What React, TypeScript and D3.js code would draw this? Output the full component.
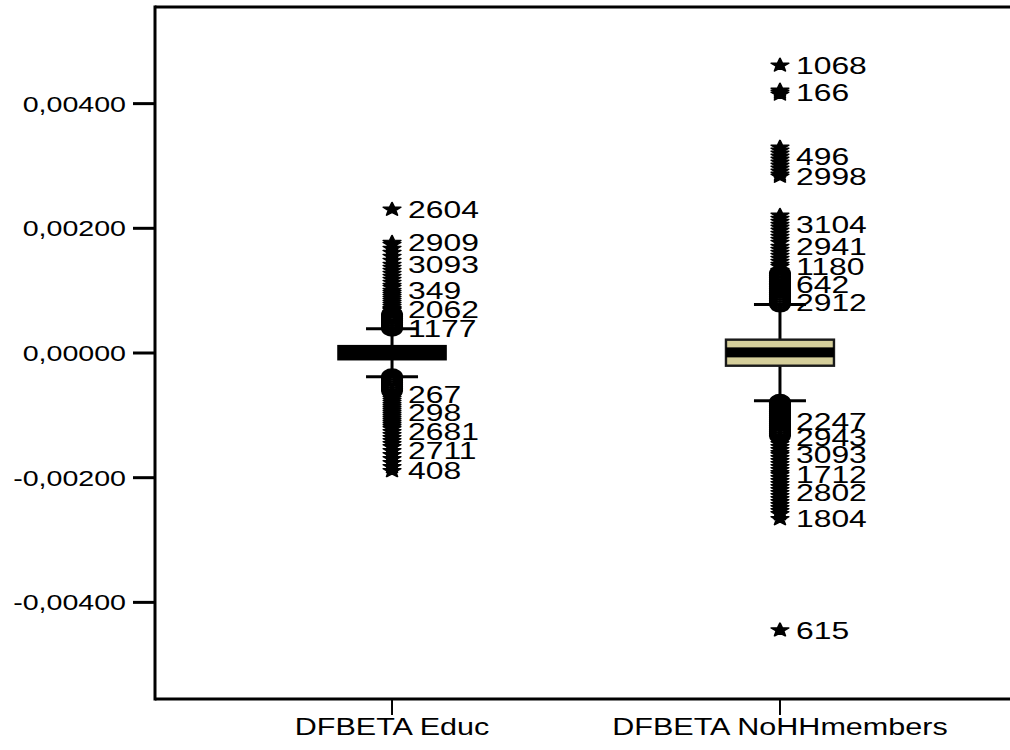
import React from "react";
import * as d3 from "d3";

// Box plot of DFBETA diagnostics for two predictors.
const categories = ["DFBETA Educ", "DFBETA NoHHmembers"];

// Box statistics per category
const whiskerLow = [-0.00038, -0.000766];
const quartile1 = [-0.000107, -0.000204];
const medians = [0.0, 0.00001];
const quartile3 = [0.000117, 0.000214];
const whiskerHigh = [0.00039, 0.000776];

// Unlabelled outliers (circles) and extremes (stars) per category
const educCircles = [
  0.000615, 0.000583, 0.000551, 0.000519, 0.000487, 0.000455, 0.000422,
  -0.000381, -0.000413, -0.000445, -0.000477, -0.000509, -0.000541, -0.000573, -0.000606,
];
const educStars = [
  0.00174, 0.001676, 0.001611, 0.001547, 0.001483, 0.00137, 0.001322, 0.001274, 0.001226,
  0.001177, 0.001129, 0.001081, 0.001049, 0.000969, 0.000937, 0.000904, 0.000872, 0.00084,
  0.000808, 0.000776, 0.000744, 0.000712, 0.00068, 0.000647,
  -0.000638, -0.000702, -0.000734, -0.000766, -0.000798, -0.000831, -0.000863, -0.000895,
  -0.000927, -0.000991, -0.001023, -0.001055, -0.001088, -0.00112, -0.001152, -0.001184,
  -0.001216, -0.001312, -0.001361, -0.001409, -0.001457, -0.001505, -0.001634, -0.001698,
  -0.001762, -0.001826,
];
const nohhCircles = [
  0.001274, 0.001242, 0.00121, 0.001177, 0.001145, 0.001113, 0.001065, 0.001033, 0.001001,
  0.000969, 0.000937, 0.000904, 0.000872, 0.00084, 0.000784,
  -0.00079, -0.000814, -0.000847, -0.000879, -0.000911, -0.000943, -0.000975, -0.001007,
  -0.001039, -0.001071, -0.001136, -0.001168, -0.0012, -0.001232, -0.001264, -0.001296,
  -0.001328,
];
const nohhStars = [
  0.004214, 0.00415, 0.003298, 0.00325, 0.003202, 0.003105, 0.003057, 0.003009, 0.002961,
  0.002912, 0.002864, 0.002206, 0.002157, 0.002109, 0.002013, 0.001965, 0.001916, 0.001868,
  0.00182, 0.001772, 0.001659, 0.001611, 0.001563, 0.001515, 0.001467, 0.001418, 0.001322,
  -0.001409, -0.001457, -0.001505, -0.001553, -0.001602, -0.001682, -0.00173, -0.001778,
  -0.001826, -0.001875, -0.001923, -0.002003, -0.002051, -0.0021, -0.002148, -0.002196,
  -0.002292, -0.002341, -0.002389, -0.002437, -0.002485, -0.002533, -0.002582,
];

// Case-labelled points: [case id, value, marker]
const educLabelled: [string, number, string][] = [
  ["2604", 0.002302, "star"],
  ["2909", 0.001772, "star"],
  ["3093", 0.001418, "star"],
  ["349", 0.001001, "star"],
  ["2062", 0.000696, "star"],
  ["1177", 0.000398, "circle"],
  ["267", -0.00067, "star"],
  ["298", -0.000959, "star"],
  ["2681", -0.001264, "star"],
  ["2711", -0.001569, "star"],
  ["408", -0.001891, "star"],
];
const nohhLabelled: [string, number, string][] = [
  ["1068", 0.004615, "star"],
  ["166", 0.004182, "star"],
  ["496", 0.003153, "star"],
  ["2998", 0.002832, "star"],
  ["3104", 0.002061, "star"],
  ["2941", 0.001708, "star"],
  ["1180", 0.001386, "star"],
  ["642", 0.001097, "circle"],
  ["2912", 0.000808, "circle"],
  ["2247", -0.001104, "circle"],
  ["2943", -0.001361, "star"],
  ["3093", -0.001634, "star"],
  ["1712", -0.001955, "star"],
  ["2802", -0.002244, "star"],
  ["1804", -0.002662, "star"],
  ["615", -0.004445, "star"],
];

const circlesByCat = [educCircles, nohhCircles];
const starsByCat = [educStars, nohhStars];
const labelledByCat = [educLabelled, nohhLabelled];

const W = 1010;
const H = 750;
const plot = { left: 155, top: 7, right: 1017, bottom: 699 };
const SX = 1.3; // horizontal stretch of the whole graphic
const FONT = "'Liberation Sans', Arial, Helvetica, sans-serif";
const BOX_FILL = "#d6cf9b";

// Five-armed asterisk used for extreme values; size = outer radius squared
const symbolAsteriskStar = {
  draw(context: any, size: number) {
    const r = Math.sqrt(size);
    const ir = r * 0.42;
    for (let i = 0; i < 10; i++) {
      const a = -Math.PI / 2 + (i * Math.PI) / 5;
      const rad = i % 2 === 0 ? r : ir;
      const px = Math.cos(a) * rad;
      const py = Math.sin(a) * rad;
      if (i === 0) context.moveTo(px, py);
      else context.lineTo(px, py);
    }
    context.closePath();
  },
};

const starPath = d3.symbol().type(symbolAsteriskStar as any).size(50)()!;
const circlePath = d3.symbol().type(d3.symbolCircle).size(Math.PI * 7.2 * 7.2)()!;

function SText({ x, y, anchor, size, children }: any) {
  return (
    <text
      transform={`translate(${x},${y}) scale(${SX},1)`}
      textAnchor={anchor}
      fontSize={size}
      fontFamily={FONT}
      fill="#000"
    >
      {children}
    </text>
  );
}

export default function App() {
  const y = d3.scaleLinear().domain([-0.00555, 0.00555]).range([plot.bottom, plot.top]);
  const x = d3
    .scalePoint<string>()
    .domain(categories)
    .range([plot.left, plot.right])
    .padding(0.611);

  const locale = d3.formatLocale({
    decimal: ",",
    thousands: ".",
    grouping: [3],
    currency: ["", ""],
    minus: "-",
  });
  const fmt = locale.format(".5f");
  const yTicks = y.ticks(5);

  const boxW = 108;
  const capW = 52;
  const medianBand = 10;

  const Marker = ({ cx, v, kind }: { cx: number; v: number; kind: string }) =>
    kind === "circle" ? (
      <path
        d={circlePath}
        transform={`translate(${cx},${y(v)}) scale(${SX},1)`}
        fill="none"
        stroke="#000"
        strokeWidth={2.6}
      />
    ) : (
      <path
        d={starPath}
        transform={`translate(${cx},${y(v)}) scale(${SX},1)`}
        fill="#000"
        stroke="#000"
        strokeWidth={1.4}
        strokeLinejoin="round"
      />
    );

  return (
    <svg
      width={W}
      height={H}
      style={{ position: "absolute", left: 0, top: 0, display: "block", background: "#fff" }}
    >
      <rect width={W} height={H} fill="#fff" />

      {/* frame */}
      <line x1={plot.left} x2={W} y1={plot.top} y2={plot.top} stroke="#000" strokeWidth={3} />
      <line x1={plot.left} x2={W} y1={plot.bottom} y2={plot.bottom} stroke="#000" strokeWidth={3} />
      <line
        x1={plot.left}
        x2={plot.left}
        y1={plot.top - 1.5}
        y2={plot.bottom + 1.5}
        stroke="#000"
        strokeWidth={3}
      />

      {/* y axis */}
      {yTicks.map((t) => (
        <g key={t}>
          <line x1={plot.left - 22} x2={plot.left} y1={y(t)} y2={y(t)} stroke="#000" strokeWidth={3} />
          <SText x={126} y={y(t) + 8} anchor="end" size={22}>
            {fmt(t)}
          </SText>
        </g>
      ))}

      {/* x axis */}
      {categories.map((c) => (
        <g key={c}>
          <line x1={x(c)} x2={x(c)} y1={plot.bottom} y2={plot.bottom + 16} stroke="#000" strokeWidth={2} />
          <SText x={x(c)} y={735} anchor="middle" size={23.5}>
            {c}
          </SText>
        </g>
      ))}

      {/* boxes */}
      {categories.map((c, i) => {
        const cx = x(c)!;
        const top = y(quartile3[i]);
        const boxH = y(quartile1[i]) - top;
        // a box too thin to show fill around the median band renders solid
        const solid = (boxH - medianBand) / 2 < 3;
        return (
          <g key={c}>
            <line x1={cx} x2={cx} y1={y(quartile3[i])} y2={y(whiskerHigh[i])} stroke="#000" strokeWidth={3} />
            <line x1={cx} x2={cx} y1={y(quartile1[i])} y2={y(whiskerLow[i])} stroke="#000" strokeWidth={3} />
            <line
              x1={cx - capW / 2}
              x2={cx + capW / 2}
              y1={y(whiskerHigh[i])}
              y2={y(whiskerHigh[i])}
              stroke="#000"
              strokeWidth={3}
            />
            <line
              x1={cx - capW / 2}
              x2={cx + capW / 2}
              y1={y(whiskerLow[i])}
              y2={y(whiskerLow[i])}
              stroke="#000"
              strokeWidth={3}
            />
            <rect
              x={cx - boxW / 2}
              y={top}
              width={boxW}
              height={boxH}
              fill={solid ? "#000" : BOX_FILL}
              stroke={solid ? "#000" : "#1a1a1a"}
              strokeWidth={solid ? 1.6 : 2.4}
            />
            <rect
              x={cx - boxW / 2}
              y={y(medians[i]) - medianBand / 2}
              width={boxW}
              height={medianBand}
              fill="#000"
            />
          </g>
        );
      })}

      {/* outliers and extremes */}
      {categories.map((c, i) => {
        const cx = x(c)!;
        return (
          <g key={c}>
            {circlesByCat[i].map((v, j) => (
              <Marker key={"c" + j} cx={cx} v={v} kind="circle" />
            ))}
            {starsByCat[i].map((v, j) => (
              <Marker key={"s" + j} cx={cx} v={v} kind="star" />
            ))}
            {labelledByCat[i].map(([id, v, kind], j) => (
              <Marker key={"l" + j} cx={cx} v={v} kind={kind} />
            ))}
          </g>
        );
      })}

      {/* case labels */}
      {categories.map((c, i) => {
        const cx = x(c)!;
        return (
          <g key={c}>
            {labelledByCat[i].map(([id, v], j) => (
              <SText key={j} x={cx + 16} y={y(v) + 8.5} anchor="start" size={24.5}>
                {id}
              </SText>
            ))}
          </g>
        );
      })}
    </svg>
  );
}
